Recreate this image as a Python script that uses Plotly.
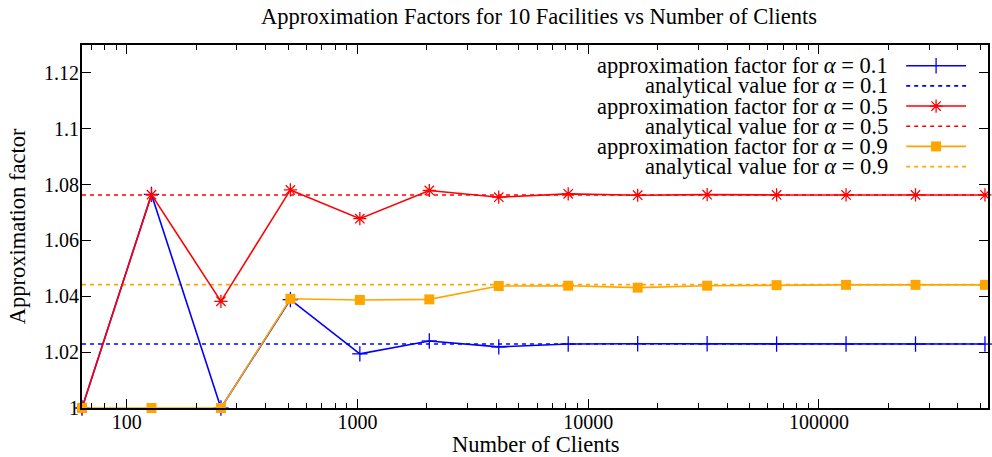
import plotly.graph_objects as go

# ---------------- data ----------------
clients = [64, 128, 256, 512, 1024, 2048, 4096, 8192, 16384, 32768, 65536, 131072, 262144, 524288]
approx_01 = [1.0, 1.0765, 1.0, 1.0388, 1.0194, 1.0240, 1.0219, 1.0229, 1.0230, 1.0230, 1.0229, 1.0229, 1.0229, 1.0229]
approx_05 = [1.0, 1.0764, 1.0382, 1.0781, 1.0678, 1.0779, 1.0755, 1.0767, 1.0762, 1.0764, 1.0763, 1.0763, 1.0763, 1.0763]
approx_09 = [1.0, 1.0, 1.0, 1.0391, 1.0387, 1.0389, 1.0437, 1.0438, 1.0431, 1.0438, 1.0440, 1.0441, 1.0441, 1.0441]
analytic_01 = 1.0229
analytic_05 = 1.0763
analytic_09 = 1.0442

y_tickvals = [1.0, 1.02, 1.04, 1.06, 1.08, 1.10, 1.12]
y_ticktext = ["1", "1.02", "1.04", "1.06", "1.08", "1.1", "1.12"]
x_tickvals = [100, 1000, 10000, 100000]
x_ticktext = ["100", "1000", "10000", "100000"]
x_minor = [m * 10 ** k for k in range(1, 6) for m in range(2, 10)]

legend_labels = [
    "approximation factor for <i>α</i> = 0.1",
    "analytical value for <i>α</i> = 0.1",
    "approximation factor for <i>α</i> = 0.5",
    "analytical value for <i>α</i> = 0.5",
    "approximation factor for <i>α</i> = 0.9",
    "analytical value for <i>α</i> = 0.9",
]

BLUE, RED, ORANGE = "#0000FF", "#FF0000", "#FFA500"
FONT = "Liberation Serif"
FS_TICK = 20
FS_TEXT = 22.5
DASH = "4px,4px"

styles = [
    dict(color=BLUE, dash="solid", symbol="line-ns-open", size=11, mw=1.3),
    dict(color=BLUE, dash=DASH, symbol=None),
    dict(color=RED, dash="solid", symbol="asterisk-open", size=11, mw=1.3),
    dict(color=RED, dash=DASH, symbol=None),
    dict(color=ORANGE, dash="solid", symbol="square", size=10, mw=0),
    dict(color=ORANGE, dash=DASH, symbol=None),
]

fig = go.Figure()

# analytical (dashed) lines
for val, col in [(analytic_01, BLUE), (analytic_05, RED), (analytic_09, ORANGE)]:
    fig.add_trace(go.Scatter(x=clients, y=[val] * len(clients), mode="lines",
                             line=dict(color=col, width=1.6, dash=DASH),
                             showlegend=False, hoverinfo="skip"))

# approximation factor series
def add_series(ys, st):
    marker = dict(symbol=st["symbol"], size=st["size"], color=st["color"])
    if st["mw"]:
        marker["line"] = dict(color=st["color"], width=st["mw"])
    fig.add_trace(go.Scatter(x=clients, y=ys, mode="lines+markers",
                             line=dict(color=st["color"], width=1.6),
                             marker=marker, showlegend=False, cliponaxis=False))

add_series(approx_01, styles[0])
# horizontal stroke of the '+' marker for alpha=0.1
fig.add_trace(go.Scatter(x=clients, y=approx_01, mode="markers",
                         marker=dict(symbol="line-ew-open", size=11, color=BLUE,
                                     line=dict(color=BLUE, width=1.3)),
                         showlegend=False, cliponaxis=False))
add_series(approx_05, styles[2])
add_series(approx_09, styles[4])

# ---------------- custom legend (text left, sample right) ----------------
row_top = 0.943
row_step = 0.0556
x_text = 0.892
x0, x1, xm = 0.9097, 0.9758, 0.9427
for i, (lab, st) in enumerate(zip(legend_labels, styles)):
    yy = row_top - i * row_step
    fig.add_annotation(x=x_text, y=yy, xref="paper", yref="paper", text=lab,
                       showarrow=False, xanchor="right", yanchor="middle",
                       font=dict(family=FONT, size=FS_TEXT, color="black"))
    fig.add_trace(go.Scatter(x=[x0, x1], y=[yy, yy], mode="lines", xaxis="x2", yaxis="y2",
                             line=dict(color=st["color"], width=1.6, dash=st["dash"]),
                             showlegend=False, hoverinfo="skip"))
    if st["symbol"]:
        mk = dict(symbol=st["symbol"], size=st["size"], color=st["color"])
        if st["mw"]:
            mk["line"] = dict(color=st["color"], width=st["mw"])
        fig.add_trace(go.Scatter(x=[xm], y=[yy], mode="markers", xaxis="x2", yaxis="y2",
                                 marker=mk, showlegend=False, hoverinfo="skip"))

# axis titles
fig.add_annotation(x=0.5, y=-0.1, xref="paper", yref="paper", text="Number of Clients",
                   showarrow=False, xanchor="center", yanchor="middle",
                   font=dict(family=FONT, size=FS_TEXT, color="black"))
fig.add_annotation(x=-0.071, y=0.5, xref="paper", yref="paper", text="Approximation factor",
                   showarrow=False, textangle=-90, xanchor="center", yanchor="middle",
                   font=dict(family=FONT, size=FS_TEXT, color="black"))

fig.update_layout(
    width=992, height=457,
    margin=dict(l=82, r=2, t=45, b=49),
    paper_bgcolor="white", plot_bgcolor="white",
    font=dict(family=FONT, size=FS_TICK, color="black"),
    title=dict(text="Approximation Factors for 10 Facilities vs Number of Clients",
               x=0.5044, xref="paper", y=1 - 16 / 457, yref="container",
               xanchor="center", yanchor="middle",
               font=dict(family=FONT, size=FS_TEXT, color="black")),
    showlegend=False,
    xaxis=dict(type="log", range=[1.8061, 5.7327],
               tickvals=x_tickvals, ticktext=x_ticktext,
               ticks="inside", ticklen=9, tickwidth=1, tickcolor="black",
               ticklabelstandoff=-5,
               minor=dict(tickvals=x_minor, ticks="inside", ticklen=5, tickwidth=1,
                          tickcolor="black", showgrid=False),
               showline=True, linecolor="black", linewidth=2, mirror="ticks",
               showgrid=False, zeroline=False,
               tickfont=dict(family=FONT, size=FS_TICK, color="black")),
    yaxis=dict(range=[1.0, 1.13],
               tickvals=y_tickvals, ticktext=y_ticktext,
               ticks="inside", ticklen=9, tickwidth=1, tickcolor="black",
               ticklabelstandoff=-3,
               showline=True, linecolor="black", linewidth=2, mirror="ticks",
               showgrid=False, zeroline=False,
               tickfont=dict(family=FONT, size=FS_TICK, color="black")),
    xaxis2=dict(overlaying="x", range=[0, 1], visible=False, domain=[0, 1]),
    yaxis2=dict(overlaying="y", range=[0, 1], visible=False, domain=[0, 1]),
)

fig.write_html("out.html", config={"displayModeBar": False},
               post_script="document.body.style.margin='0';document.body.style.padding='0';")
